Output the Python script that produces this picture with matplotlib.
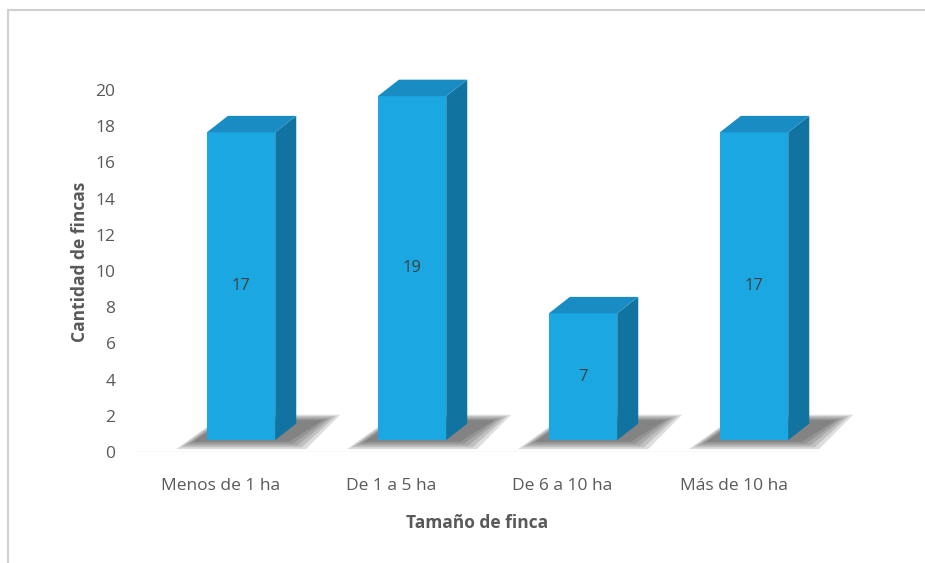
import numpy as np
import matplotlib.pyplot as plt
from matplotlib.patches import Polygon

categorias = ['Menos de 1 ha', 'De 1 a 5 ha', 'De 6 a 10 ha', 'Más de 10 ha']
fincas = [17, 19, 7, 17]
ticks_y = list(range(0, 21, 2))

plt.rcParams['font.family'] = ['Open Sans', 'DejaVu Sans']

c_frente = '#1ba7e1'
c_lado = '#11739f'
c_arriba = '#1a8cc4'
c_texto = '#595959'

fig = plt.figure(figsize=(9.25, 5.63), dpi=100)
ax = fig.add_axes([135 / 925, 111 / 563, 684 / 925, 21 * 18.1 / 563])

# marco gris (solo izquierda y arriba, como en la imagen)
fig.add_artist(plt.Line2D([8 / 925, 8 / 925], [0, 1 - 10 / 563], color='#d0d0d0', lw=1.5))
fig.add_artist(plt.Line2D([8 / 925, 1], [1 - 10 / 563, 1 - 10 / 563], color='#d0d0d0', lw=1.5))

x = np.arange(len(categorias))
off = 0.12      # desplazamiento de la cara frontal
hw = 0.2        # media anchura
dx, dy = 0.123, 0.91  # profundidad
base = 0.66

for xi, v in zip(x, fincas):
    l = xi + off - hw
    r = xi + off + hw
    t = base + v
    # sombra difusa
    for k in range(5):
        s = 0.025 * (4 - k)
        sh = [(l - 0.08 - s, base - 0.1 - s * 4), (r + 0.08 + s, base - 0.1 - s * 4),
              (r + 0.28 + s, base + 1.1 + s * 3), (l + 0.1, base + 1.1 + s * 3)]
        ax.add_patch(Polygon(sh, closed=True, fc='#2e2e2e', ec='none', alpha=0.16,
                             clip_on=False))
    ax.add_patch(Polygon([(l, base), (r, base), (r, t), (l, t)], fc=c_frente, ec='none', clip_on=False))
    ax.add_patch(Polygon([(r, base), (r + dx, base + dy), (r + dx, t + dy), (r, t)],
                         fc=c_lado, ec='none', clip_on=False))
    ax.add_patch(Polygon([(l, t), (r, t), (r + dx, t + dy), (l + dx, t + dy)],
                         fc=c_arriba, ec='none', clip_on=False))
    ax.text(xi + off, base + v / 2, str(v), ha='center', va='center', fontsize=12, color='#404040')

ax.plot([-0.5, 3.5], [0, 0], color='#d9d9d9', lw=1)
ax.set_xlim(-0.5, 3.5)
ax.set_ylim(0, 21)
ax.set_xticks(x)
ax.set_xticklabels(categorias)
ax.set_yticks(ticks_y)
for s in ax.spines.values():
    s.set_visible(False)
ax.tick_params(axis='both', length=0, labelsize=12.5, colors=c_texto)
ax.tick_params(axis='x', pad=19)
ax.tick_params(axis='y', pad=14)
ax.set_xlabel('Tamaño de finca', fontsize=12.5, fontweight='bold', color=c_texto, labelpad=14)
ax.set_ylabel('Cantidad de fincas', fontsize=12.5, fontweight='bold', color=c_texto, labelpad=5)

fig.savefig('out.png', dpi=100, facecolor='white')
